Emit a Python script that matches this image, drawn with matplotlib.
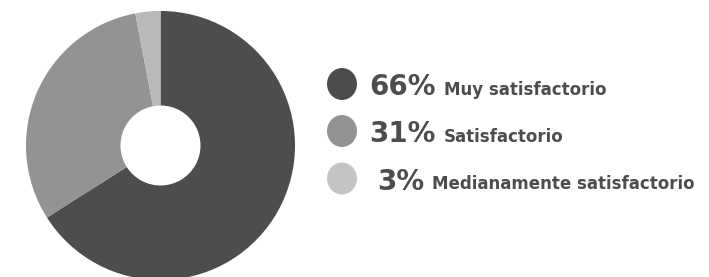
import matplotlib
matplotlib.use("Agg")
import matplotlib.pyplot as plt
from matplotlib.patches import Ellipse

# datos
labels = ["Muy satisfactorio", "Satisfactorio", "Medianamente satisfactorio"]
values = [66, 31, 3]
colors = ["#4d4d4d", "#939393", "#b9b9b9"]
legend_colors = ["#4d4d4d", "#939393", "#c4c4c4"]

W, H = 709, 277
fig = plt.figure(figsize=(W / 100, H / 100), dpi=100)
ax = fig.add_axes([0, 0, 1, 1])

ax.pie(values, colors=colors, startangle=90, counterclock=False,
       center=(160.5, H - 145.5), radius=134.5,
       wedgeprops=dict(width=134.5 - 40, edgecolor="none"))
ax.set_xlim(0, W)
ax.set_ylim(0, H)
ax.set_aspect("equal")
ax.axis("off")

rows_y = [84, 131, 178.5]
pct_x = [369, 369, 377]
for lab, val, col, y, px in zip(labels, values, legend_colors, rows_y, pct_x):
    ax.add_patch(Ellipse((342, H - y), 30, 32, color=col, lw=0))
    base = H - y - 11
    pct = ax.text(px, base, f"{val}%", fontsize=20, fontweight="bold",
                  color="#4d4d4d", va="baseline", ha="left",
                  family="DejaVu Sans")
    ax.annotate(lab, xy=(1, 0), xycoords=pct, xytext=(6, 1.5),
                textcoords="offset points", fontsize=12, fontweight="bold",
                color="#4d4d4d", va="bottom", ha="left", family="DejaVu Sans")

fig.savefig("out.png", dpi=100)
